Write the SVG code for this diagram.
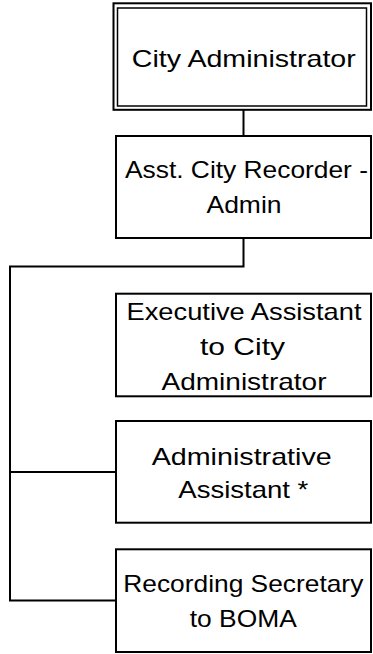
<svg xmlns="http://www.w3.org/2000/svg" width="373" height="654" viewBox="0 0 373 654">
<style>
.box{fill:#fff;stroke:#000;stroke-width:2}
.thin{fill:none;stroke:#000;stroke-width:1.5}
.conn{fill:none;stroke:#000;stroke-width:2}
text{font-family:"Liberation Sans",Arial,sans-serif;font-size:24px;fill:#000;text-anchor:middle}
</style>
<rect width="373" height="654" fill="#fff"/>
<g id="connectors">
<path class="conn" d="M243.5,110 V136"/>
<path class="conn" d="M243.5,238 V266.5 H10 V600.5 H116"/>
<path class="conn" d="M10,472 H116"/>
</g>
<g id="city-administrator">
<rect class="box" x="113.5" y="3.3" width="257.5" height="106.5"/>
<rect class="thin" x="117.5" y="8" width="249" height="98"/>
<text x="243.8" y="66.7" textLength="224" lengthAdjust="spacingAndGlyphs">City Administrator</text>
</g>
<g id="asst-city-recorder">
<rect class="box" x="116" y="136" width="255" height="102"/>
<text x="246.5" y="178.3" textLength="243" lengthAdjust="spacingAndGlyphs">Asst. City Recorder -</text>
<text x="244" y="213" textLength="75" lengthAdjust="spacingAndGlyphs">Admin</text>
</g>
<g id="executive-assistant">
<rect class="box" x="116" y="293.7" width="255" height="102.6"/>
<text x="244" y="320" textLength="235" lengthAdjust="spacingAndGlyphs">Executive Assistant</text>
<text x="242.5" y="355" textLength="85" lengthAdjust="spacingAndGlyphs">to City</text>
<text x="244" y="390" textLength="165" lengthAdjust="spacingAndGlyphs">Administrator</text>
</g>
<g id="administrative-assistant">
<rect class="box" x="116" y="421" width="255" height="101.7"/>
<text x="241.7" y="465" textLength="180" lengthAdjust="spacingAndGlyphs">Administrative</text>
<text x="243.3" y="498.3" textLength="130" lengthAdjust="spacingAndGlyphs">Assistant *</text>
</g>
<g id="recording-secretary">
<rect class="box" x="116" y="549.3" width="255" height="102.7"/>
<text x="243.3" y="591.7" textLength="240" lengthAdjust="spacingAndGlyphs">Recording Secretary</text>
<text x="243.3" y="626.7" textLength="107" lengthAdjust="spacingAndGlyphs">to BOMA</text>
</g>
</svg>
